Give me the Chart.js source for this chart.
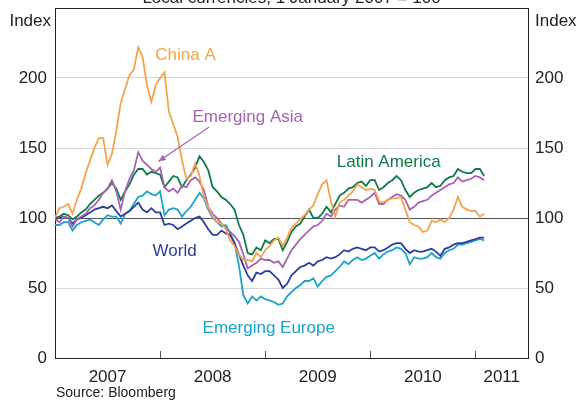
<!DOCTYPE html>
<html>
<head>
<meta charset="utf-8">
<script src="https://cdn.jsdelivr.net/npm/chart.js@4.4.0/dist/chart.umd.min.js"></script>
<style>
  html, body { margin: 0; padding: 0; background: #fff; }
  canvas { display: block; }
</style>
</head>
<body>
<canvas id="chart" width="578" height="401"></canvas>
<script>
// x values are months since 1 January 2007, read twice a month
const months = Array.from({ length: 99 }, (_, i) => i / 2);
const yearLabels = ['2007', '2008', '2009', '2010', '2011'];
const yearLabelPos = [6, 18, 30, 42, 51];
const yearTicks = [12, 24, 36, 48];

const chinaA = [
  100, 107, 108, 110, 103, 113, 121, 132, 141, 150,
  157, 157, 138, 146, 162, 182, 192, 202, 206, 222,
  215, 195, 183, 195, 200, 204, 176, 167, 158, 141,
  128, 130, 139, 130, 115, 108, 101, 97, 96, 92,
  84, 80, 74, 70, 70, 69, 75, 72, 77, 80,
  84, 86, 80, 86, 93, 96, 99, 102, 106, 109,
  117, 124, 127, 112, 101, 111, 113, 116, 119, 124,
  122, 120, 121, 120, 112, 111, 113, 114, 114, 115,
  106, 97, 95, 94, 90, 91, 98, 97, 99, 97,
  100, 106, 115, 108, 106, 105, 105, 101, 103
];
const emergingAsia = [
  99, 97, 101, 100, 94, 99, 101, 103, 107, 109,
  113, 118, 121, 127, 119, 106, 119, 128, 134, 147,
  141, 138, 135, 133, 136, 122, 119, 121, 118, 123,
  122, 127, 129, 126, 120, 108, 103, 100, 96, 93,
  90, 87, 83, 74, 64, 66, 68, 71, 70, 70,
  68, 69, 65, 71, 77, 81, 85, 88, 91, 94,
  95, 98, 103, 101, 106, 109, 108, 113, 113, 113,
  111, 113, 115, 118, 110, 110, 113, 115, 117, 116,
  113, 106, 108, 111, 112, 113, 116, 118, 120, 122,
  124, 125, 129, 126, 127, 128, 130, 129, 127
];
const latinAmerica = [
  100, 101, 103, 102, 99, 101, 104, 106, 110, 113,
  116, 118, 121, 125, 121, 113, 119, 124, 131, 135,
  135, 131, 133, 132, 131, 122, 126, 130, 129, 122,
  127, 131, 136, 144, 140, 134, 122, 119, 115, 113,
  110, 106, 95, 88, 75, 74, 79, 77, 84, 82,
  85, 85, 77, 83, 90, 94, 96, 101, 106, 100,
  100, 103, 108, 104, 110, 116, 118, 121, 122, 125,
  126, 123, 127, 127, 120, 122, 125, 127, 130, 127,
  120, 115, 118, 120, 121, 122, 125, 122, 123, 127,
  129, 130, 135, 133, 132, 132, 135, 135, 130
];
const world = [
  99, 100, 101, 100, 96, 99, 100, 102, 104, 106,
  107, 108, 107, 109, 105, 101, 103, 105, 108, 111,
  106, 104, 107, 104, 104, 95, 96, 95, 92, 94,
  96, 98, 100, 101, 97, 92, 88, 88, 91, 89,
  88, 82, 74, 66, 59, 55, 61, 60, 62, 62,
  59, 56, 50, 53, 59, 62, 65, 66, 68, 66,
  69, 70, 72, 71, 72, 74, 77, 76, 78, 79,
  78, 77, 79, 79, 76, 77, 79, 81, 82, 82,
  78, 75, 77, 76, 76, 77, 78, 76, 73, 78,
  79, 81, 82, 82, 83, 84, 85, 86, 86
];
const emergingEurope = [
  95, 95, 97, 97, 91, 95, 97, 98, 99, 97,
  95, 99, 102, 101, 101, 96, 103, 105, 110, 115,
  116, 119, 117, 116, 119, 102, 106, 107, 106, 101,
  105, 108, 113, 118, 114, 106, 100, 97, 94, 95,
  89, 82, 66, 45, 39, 44, 41, 44, 42, 41,
  40, 38, 39, 44, 47, 50, 52, 55, 55, 57,
  51, 55, 58, 59, 62, 65, 69, 67, 70, 72,
  70, 71, 73, 75, 71, 74, 76, 77, 79, 78,
  75, 67, 72, 71, 71, 72, 75, 72, 71, 75,
  77, 78, 81, 81, 82, 83, 84, 85, 84
];

const colors = {
  chinaA: '#f6a24c',
  asia: '#a862b4',
  latam: '#0e7a47',
  world: '#2c3e9c',
  europe: '#1aa3cb'
};

const font = "'Liberation Sans', Arial, sans-serif";
Chart.defaults.font.family = font;
Chart.defaults.color = '#222';

function points(values) {
  return months.map((m, i) => ({ x: m, y: values[i] }));
}

function line(label, values, color) {
  return {
    label: label,
    data: points(values),
    borderColor: color,
    backgroundColor: color,
    borderWidth: 1.8,
    pointRadius: 0,
    tension: 0
  };
}

const annotations = {
  id: 'annotations',
  afterDraw(chart) {
    const c = chart.ctx;
    const x = chart.scales.x;
    const y = chart.scales.y;
    const area = chart.chartArea;

    c.save();
    // top edge of the box
    c.strokeStyle = '#222';
    c.lineWidth = 1;
    c.beginPath();
    c.moveTo(area.left, area.top + 0.5);
    c.lineTo(area.right, area.top + 0.5);
    c.stroke();

    // year tick marks sit inside the plot on the bottom axis
    c.strokeStyle = '#555';
    yearTicks.forEach(m => {
      const px = Math.round(x.getPixelForValue(m)) + 0.5;
      c.beginPath();
      c.moveTo(px, area.bottom);
      c.lineTo(px, area.bottom - 7);
      c.stroke();
    });

    c.font = '17px ' + font;
    c.textBaseline = 'middle';
    c.textAlign = 'center';
    const labels = [
      ['China A', colors.chinaA, 14.9, 216],
      ['Emerging Asia', colors.asia, 22.0, 172],
      ['Latin America', colors.latam, 38.1, 140],
      ['World', colors.world, 13.65, 76],
      ['Emerging Europe', colors.europe, 24.4, 21]
    ];
    labels.forEach(([text, color, m, v]) => {
      c.fillStyle = color;
      c.fillText(text, x.getPixelForValue(m), y.getPixelForValue(v));
    });

    // arrow from the Emerging Asia label down to its line
    const x0 = x.getPixelForValue(17.6), y0 = y.getPixelForValue(165);
    const x1 = x.getPixelForValue(11.8), y1 = y.getPixelForValue(140.4);
    c.strokeStyle = colors.asia;
    c.fillStyle = colors.asia;
    c.lineWidth = 1.2;
    c.beginPath();
    c.moveTo(x0, y0);
    c.lineTo(x1, y1);
    c.stroke();
    const ang = Math.atan2(y1 - y0, x1 - x0);
    c.beginPath();
    c.moveTo(x1, y1);
    c.lineTo(x1 - 8 * Math.cos(ang - 0.4), y1 - 8 * Math.sin(ang - 0.4));
    c.lineTo(x1 - 8 * Math.cos(ang + 0.4), y1 - 8 * Math.sin(ang + 0.4));
    c.closePath();
    c.fill();

    c.fillStyle = '#222';
    c.textAlign = 'right';
    c.fillText('Index', 51, 21);
    c.textAlign = 'left';
    c.fillText('Index', 535, 21);

    c.textAlign = 'center';
    c.textBaseline = 'alphabetic';
    c.fillText('Local currencies; 1 January 2007 = 100', (area.left + area.right) / 2, 3);

    c.font = '14px ' + font;
    c.textAlign = 'left';
    c.textBaseline = 'middle';
    c.fillText('Source: Bloomberg', 56, 393);
    c.restore();
  }
};

function gridColor(ctx) {
  const v = ctx.tick.value;
  if (v === 100) return '#555';
  if (v === 0 || v === 250) return 'rgba(0,0,0,0)';
  return '#d6d6d6';
}

// keep the plot box fixed: no extra room for half tick labels
function fitY(width) {
  return axis => {
    axis.width = width;
    axis.paddingTop = 0;
    axis.paddingBottom = 0;
  };
}

const yTickOpts = {
  stepSize: 50,
  padding: 8,
  font: { size: 17 },
  color: '#222',
  callback: v => (v === 250 ? '' : v)
};

new Chart(document.getElementById('chart'), {
  type: 'line',
  data: {
    datasets: [
      line('China A', chinaA, colors.chinaA),
      line('Emerging Asia', emergingAsia, colors.asia),
      line('Latin America', latinAmerica, colors.latam),
      line('World', world, colors.world),
      line('Emerging Europe', emergingEurope, colors.europe)
    ]
  },
  options: {
    responsive: false,
    animation: false,
    devicePixelRatio: 1,
    layout: { padding: { top: 8, left: 0, right: 0, bottom: 0 } },
    plugins: { legend: { display: false }, tooltip: { enabled: false } },
    scales: {
      x: {
        type: 'linear',
        min: 0,
        max: 54,
        grid: { display: false },
        border: { display: true, color: '#222', width: 1 },
        afterBuildTicks: axis => {
          axis.ticks = yearLabelPos.map(v => ({ value: v }));
        },
        afterFit: axis => {
          axis.height = 43;
          axis.paddingLeft = 0;
          axis.paddingRight = 0;
        },
        ticks: {
          autoSkip: false,
          maxRotation: 0,
          padding: 1,
          font: { size: 17 },
          color: '#222',
          callback: (v, i) => yearLabels[i]
        }
      },
      y: {
        position: 'left',
        min: 0,
        max: 250,
        afterFit: fitY(55),
        grid: { color: gridColor, drawTicks: false, lineWidth: 1 },
        border: { color: '#222', width: 1 },
        ticks: yTickOpts
      },
      y2: {
        position: 'right',
        min: 0,
        max: 250,
        afterFit: fitY(50),
        grid: { drawOnChartArea: false, drawTicks: false },
        border: { color: '#222', width: 1 },
        ticks: Object.assign({}, yTickOpts, { padding: 7 })
      }
    }
  },
  plugins: [annotations]
});
</script>
</body>
</html>
